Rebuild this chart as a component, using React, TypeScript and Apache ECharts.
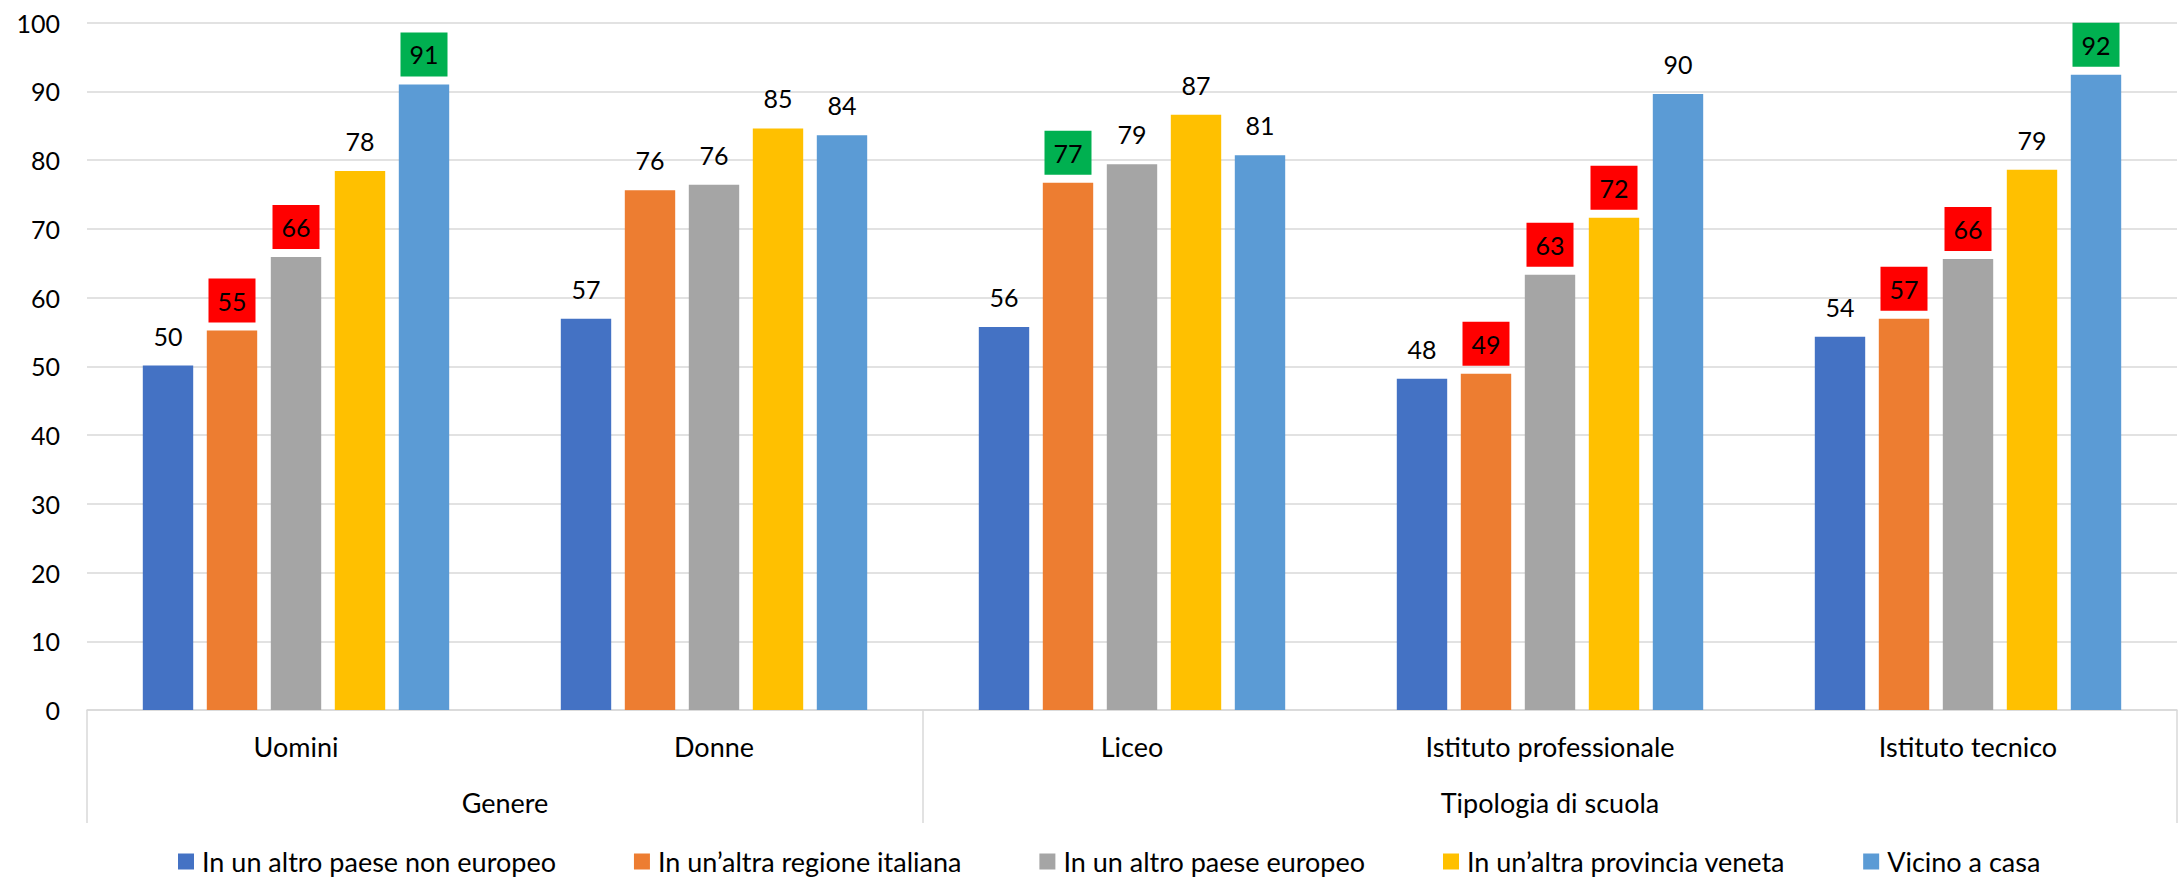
import React, { useEffect, useRef } from "react";
import * as echarts from "echarts";

const categories = ["Uomini", "Donne", "Liceo", "Istituto professionale", "Istituto tecnico"];
const groupNames = ["Genere", "Tipologia di scuola"];
const groupSizes = [2, 3];

const seriesNames = [
  "In un altro paese non europeo",
  "In un’altra regione italiana",
  "In un altro paese europeo",
  "In un’altra provincia veneta",
  "Vicino a casa",
];

const nonEuropeo = [50.1, 56.9, 55.7, 48.2, 54.3];
const altraRegione = [55.2, 75.6, 76.7, 48.9, 56.9];
const paeseEuropeo = [65.9, 76.4, 79.4, 63.3, 65.6];
const altraProvincia = [78.4, 84.6, 86.6, 71.6, 78.6];
const vicinoCasa = [91.0, 83.6, 80.7, 89.6, 92.4];

// highlight flags: "low" = red box, "high" = green box
const nonEuropeoFlag = ["", "", "", "", ""];
const altraRegioneFlag = ["low", "", "high", "low", "low"];
const paeseEuropeoFlag = ["low", "", "", "low", "low"];
const altraProvinciaFlag = ["", "", "", "low", ""];
const vicinoCasaFlag = ["high", "", "", "", "high"];

const yTicks = [0, 10, 20, 30, 40, 50, 60, 70, 80, 90, 100];

const allValues = [nonEuropeo, altraRegione, paeseEuropeo, altraProvincia, vicinoCasa];
const allFlags = [nonEuropeoFlag, altraRegioneFlag, paeseEuropeoFlag, altraProvinciaFlag, vicinoCasaFlag];
const colors = ["#4472C4", "#ED7D31", "#A5A5A5", "#FFC000", "#5B9BD5"];
const flagColor: Record<string, string> = { low: "#FF0000", high: "#00B050" };

const FONT = "Lato";
const GRID = "#D9D9D9";

export default function App() {
  const ref = useRef<HTMLDivElement>(null);
  useEffect(() => {
    if (!ref.current) return;
    const chart = echarts.init(ref.current, null, { renderer: "svg" });

    const boundaries: number[] = [0];
    const centers: number[] = [];
    groupSizes.forEach((s) => {
      const start = boundaries[boundaries.length - 1];
      centers.push(start + s / 2);
      boundaries.push(start + s);
    });

    const series: any[] = allValues.map((vals, si) => ({
      name: seriesNames[si],
      type: "bar",
      xAxisIndex: 0,
      yAxisIndex: 0,
      barGap: "27%",
      barCategoryGap: "26.7%",
      itemStyle: { color: colors[si] },
      label: {
        show: true,
        position: "top",
        distance: 8,
        color: "#000",
        fontFamily: FONT,
        fontSize: 25,
        lineHeight: 30,
        padding: [7, 9],
        formatter: (p: any) => String(Math.round(p.value)),
      },
      data: vals.map((v, i) => {
        const f = allFlags[si][i];
        return f
          ? { value: v, label: { backgroundColor: flagColor[f] } }
          : { value: v };
      }),
    }));
    series.push({
      type: "line",
      name: "__groups",
      xAxisIndex: 1,
      yAxisIndex: 0,
      data: [],
      silent: true,
    });

    chart.setOption({
      animation: false,
      backgroundColor: "#fff",
      grid: { left: 87, right: 1, top: 22.5, bottom: 167, containLabel: false },
      legend: {
        data: seriesNames,
        left: 173,
        top: 843,
        itemWidth: 16,
        itemHeight: 16,
        itemGap: 78,
        icon: "rect",
        textStyle: {
          fontFamily: FONT,
          fontSize: 27,
          lineHeight: 26,
          color: "#000",
          padding: [0, 0, 0, 3],
        },
      },
      xAxis: [
        {
          type: "category",
          data: categories,
          position: "bottom",
          axisLine: { show: true, lineStyle: { color: GRID, width: 1.5 } },
          axisTick: { show: false },
          axisLabel: {
            fontFamily: FONT,
            fontSize: 27,
            color: "#000",
            margin: 23,
            interval: 0,
          },
        },
        {
          type: "value",
          min: 0,
          max: 5,
          position: "bottom",
          axisLine: { show: false },
          splitLine: { show: false },
          axisTick: {
            show: true,
            length: 113,
            customValues: boundaries,
            lineStyle: { color: GRID, width: 1.5 },
          },
          axisLabel: {
            show: true,
            customValues: centers,
            fontFamily: FONT,
            fontSize: 27,
            color: "#000",
            margin: 79,
            formatter: (v: number) => {
              const idx = centers.indexOf(v);
              return idx >= 0 ? groupNames[idx] : "";
            },
          },
        },
      ],
      yAxis: {
        type: "value",
        min: yTicks[0],
        max: yTicks[yTicks.length - 1],
        interval: yTicks[1] - yTicks[0],
        axisLine: { show: false },
        axisTick: { show: false },
        splitLine: { lineStyle: { color: GRID, width: 1.5 } },
        axisLabel: {
          fontFamily: FONT,
          fontSize: 25,
          color: "#000",
          margin: 27,
        },
      },
      series,
    });

    return () => chart.dispose();
  }, []);

  return (
    <div
      ref={ref}
      style={{ position: "absolute", left: 0, top: 0, width: 2178, height: 877 }}
    />
  );
}
